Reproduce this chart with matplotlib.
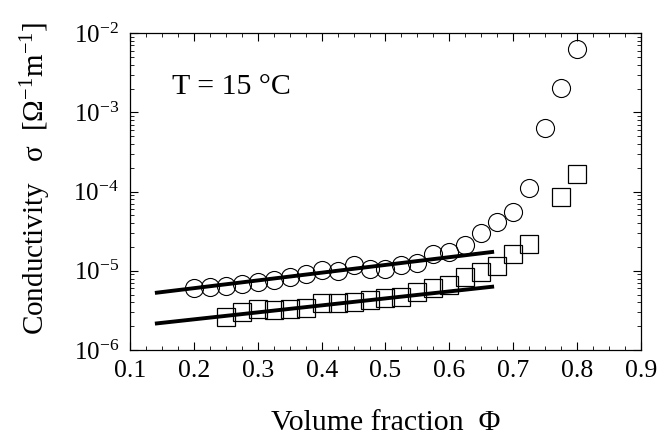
import matplotlib
matplotlib.use("Agg")
import matplotlib.pyplot as plt
from matplotlib.ticker import MultipleLocator, LogLocator, NullFormatter

plt.rcParams['font.family'] = ['Liberation Serif', 'DejaVu Serif']
plt.rcParams['mathtext.fontset'] = 'custom'
plt.rcParams['mathtext.rm'] = 'Liberation Serif'
plt.rcParams['mathtext.it'] = 'Liberation Serif'

# Circles series
phi_circ = [0.20, 0.225, 0.25, 0.275, 0.30, 0.325, 0.35, 0.375, 0.40, 0.425,
            0.45, 0.475, 0.50, 0.525, 0.55, 0.575, 0.60, 0.625, 0.65, 0.675,
            0.70, 0.725, 0.75, 0.775, 0.80]
sig_circ = [6.0e-6, 6.3e-6, 6.4e-6, 6.8e-6, 7.3e-6, 7.6e-6, 8.3e-6, 9.0e-6, 1.02e-5, 1.0e-5,
            1.18e-5, 1.07e-5, 1.05e-5, 1.2e-5, 1.24e-5, 1.63e-5, 1.74e-5, 2.1e-5, 2.97e-5, 4.16e-5,
            5.6e-5, 1.1e-4, 6.3e-4, 2.04e-3, 6.4e-3]

# Squares series
phi_sq = [0.25, 0.275, 0.30, 0.325, 0.35, 0.375, 0.40, 0.425, 0.45, 0.475,
          0.50, 0.525, 0.55, 0.575, 0.60, 0.625, 0.65, 0.675, 0.70, 0.725,
          0.775, 0.80]
sig_sq = [2.63e-6, 3.04e-6, 3.3e-6, 3.2e-6, 3.3e-6, 3.4e-6, 3.9e-6, 3.9e-6, 4.07e-6, 4.27e-6,
          4.5e-6, 4.7e-6, 5.4e-6, 6.0e-6, 6.6e-6, 8.4e-6, 9.7e-6, 1.15e-5, 1.63e-5, 2.2e-5,
          8.6e-5, 1.66e-4]

# Fit lines
fit_phi = [0.142, 0.667]
fit_circ = [5.3e-6, 1.73e-5]
fit_sq = [2.17e-6, 6.3e-6]

xticks = [0.1, 0.2, 0.3, 0.4, 0.5, 0.6, 0.7, 0.8, 0.9]
yticks = [1e-6, 1e-5, 1e-4, 1e-3, 1e-2]
ytick_labels = [r'$10^{-6}$', r'$10^{-5}$', r'$10^{-4}$', r'$10^{-3}$', r'$10^{-2}$']

fig = plt.figure(figsize=(6.61, 4.42), dpi=100)
ax = fig.add_axes([0.1967, 0.208, 0.7730, 0.717])

ax.plot(phi_circ, sig_circ, linestyle='none', marker='o', markersize=13,
        markerfacecolor='none', markeredgecolor='black', markeredgewidth=0.8)
ax.plot(phi_sq, sig_sq, linestyle='none', marker='s', markersize=13,
        markerfacecolor='none', markeredgecolor='black', markeredgewidth=0.9)
ax.plot(fit_phi, fit_circ, color='black', linewidth=2.8)
ax.plot(fit_phi, fit_sq, color='black', linewidth=2.8)

ax.set_yscale('log')
ax.set_xlim(0.1, 0.9)
ax.set_ylim(1e-6, 1e-2)
ax.set_xticks(xticks)
ax.set_xticklabels([f'{v:.1f}' for v in xticks])
ax.set_yticks(yticks)
ax.set_yticklabels(ytick_labels)
ax.xaxis.set_minor_locator(MultipleLocator(0.025))
ax.yaxis.set_minor_locator(LogLocator(base=10, subs=range(2, 10)))
ax.yaxis.set_minor_formatter(NullFormatter())

ax.tick_params(which='both', direction='in', top=True, right=True)
ax.tick_params(axis='x', labelsize=18.5, pad=7)
ax.tick_params(axis='y', labelsize=18, pad=8)
ax.tick_params(which='major', length=6, width=0.8)
ax.tick_params(which='minor', length=3, width=0.6)
for s in ax.spines.values():
    s.set_linewidth(0.9)

ax.text(0.082, 0.83, 'T = 15 °C', transform=ax.transAxes, fontsize=21.5, ha='left', va='center')

ax.set_xlabel('Volume fraction  Φ', fontsize=21.5, labelpad=20)
ax.set_ylabel(r'Conductivity   σ  [Ω$^{-1}$m$^{-1}$]', fontsize=21)
ax.yaxis.set_label_coords(-0.15, 0.54)

fig.savefig('out.png', dpi=100)
